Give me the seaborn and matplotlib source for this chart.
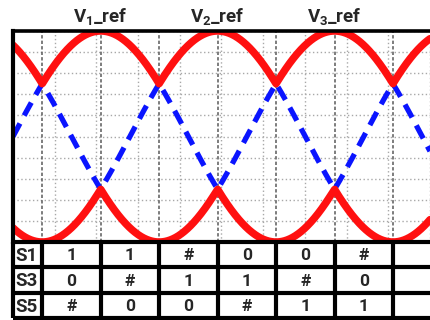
import numpy as np
import pandas as pd
import matplotlib
matplotlib.use("Agg")
import matplotlib.pyplot as plt
import seaborn as sns

# Three-phase reference voltages (per unit): names, phase shifts, amplitude
ref_names = [r"$\mathregular{V_1}$_ref", r"$\mathregular{V_2}$_ref", r"$\mathregular{V_3}$_ref"]
ref_phase_deg = [0, -120, 120]
ref_amplitude = 1.0
angle_range_deg = [0, 428]

# Switch states in each 60-degree sector (sector edges in degrees)
sector_edges_deg = [30, 90, 150, 210, 270, 330, 390, 450]
switch_names = ["S1", "S3", "S5"]
s1_states = ["1", "1", "#", "0", "0", "#", ""]
s3_states = ["0", "#", "1", "1", "#", "0", ""]
s5_states = ["#", "0", "0", "#", "1", "1", ""]

sns.set_style("white")
plt.rcParams["font.family"] = ["Roboto", "DejaVu Sans"]
plt.rcParams["mathtext.fontset"] = "custom"

W, H = 430, 320
fig = plt.figure(figsize=(W / 100, H / 100), dpi=100)

# --- waveform panel -------------------------------------------------------
left, top, bottom = 13 / W, 31 / H, 242 / H
ax = fig.add_axes([left, 1 - bottom, 1 - left, bottom - top])

theta = np.linspace(angle_range_deg[0], angle_range_deg[1], 3000)
refs = np.array([ref_amplitude * np.sin(np.radians(theta + p)) for p in ref_phase_deg])
wave = pd.DataFrame({
    "theta": theta,
    "upper": refs.max(axis=0),
    "lower": refs.min(axis=0),
    "middle": np.median(refs, axis=0),
})

sns.lineplot(data=wave, x="theta", y="middle", ax=ax, color="#0a14ff",
             lw=3.8, linestyle=(0, (2.8, 1.7)), estimator=None, zorder=3)
for col in ["upper", "lower"]:
    sns.lineplot(data=wave, x="theta", y=col, ax=ax, color="#ff1010",
                 lw=5.4, estimator=None, zorder=4)

ax.set_xlim(*angle_range_deg)
ax.set_ylim(-ref_amplitude, ref_amplitude)
ax.set_xticks(np.linspace(*angle_range_deg, 11))
ax.set_yticks(np.linspace(-ref_amplitude, ref_amplitude, 11))
ax.grid(True, color="#a8a8a8", lw=1.0, linestyle=(0, (1, 1.8)))
ax.tick_params(length=0, labelbottom=False, labelleft=False)
ax.set_xlabel("")
ax.set_ylabel("")

# sector boundaries
for e in sector_edges_deg[:-1]:
    ax.axvline(e, color="#5a5a5a", lw=1.1, linestyle=(0, (2.2, 1.4)), zorder=1)

for s in ["right", "bottom"]:
    ax.spines[s].set_visible(False)
ax.spines["left"].set_linewidth(3.0)
ax.spines["top"].set_linewidth(2.6)
for s in ["left", "top"]:
    ax.spines[s].set_color("black")
    ax.spines[s].set_zorder(6)

# reference labels above each peak
for name, p in zip(ref_names, ref_phase_deg):
    peak = (90 - p) % 360
    ax.annotate(name, xy=(peak, 1), xycoords=("data", "axes fraction"),
                xytext=(0, 6.5), textcoords="offset points",
                ha="center", va="baseline", fontsize=13.5, fontweight="bold",
                annotation_clip=False)

# --- switch-state table ---------------------------------------------------
tab_bottom = 318 / H
axt = fig.add_axes([left, 1 - tab_bottom, 1 - left, tab_bottom - bottom])
axt.set_xlim(*angle_range_deg)
axt.set_ylim(len(switch_names), 0)
axt.axis("off")

axt.hlines(np.arange(len(switch_names) + 1), 0, sector_edges_deg[-1],
           color="black", lw=3.0, clip_on=False)
axt.vlines([angle_range_deg[0]] + sector_edges_deg, 0, len(switch_names),
           color="black", lw=3.0, clip_on=False)

rows = [s1_states, s3_states, s5_states]
centers = [(a + b) / 2 for a, b in zip(sector_edges_deg[:-1], sector_edges_deg[1:])]
for r, (name, states) in enumerate(zip(switch_names, rows)):
    axt.text(2.5, r + 0.55, name, ha="left", va="center", fontsize=13.5,
             fontweight="bold")
    for c, st in zip(centers, states):
        axt.text(c, r + 0.55, st, ha="center", va="center", fontsize=12.5,
                 fontweight="bold")

fig.savefig("out.png", dpi=100)
